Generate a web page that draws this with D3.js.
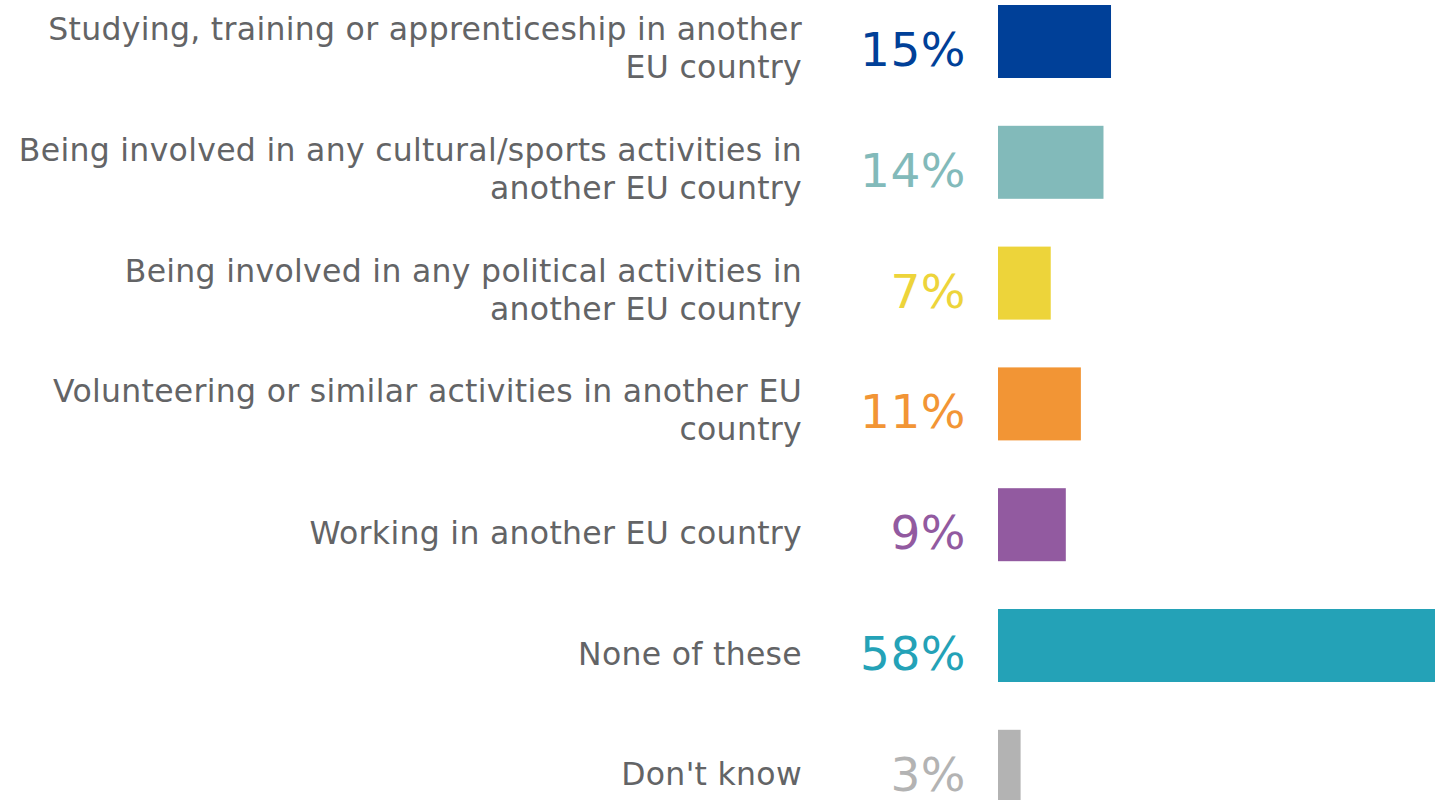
<!DOCTYPE html>
<html>
<head>
<meta charset="utf-8">
<script src="https://cdn.jsdelivr.net/npm/d3@7"></script>
<style>
  html, body { margin: 0; padding: 0; background: #fff; overflow: hidden; }
  svg { display: block; }
</style>
</head>
<body>
<svg id="chart" width="1435" height="800"></svg>
<script>
const categories = [
  ["Studying, training or apprenticeship in another", "EU country"],
  ["Being involved in any cultural/sports activities in", "another EU country"],
  ["Being involved in any political activities in", "another EU country"],
  ["Volunteering or similar activities in another EU", "country"],
  ["Working in another EU country"],
  ["None of these"],
  ["Don't know"]
];
const values = [15, 14, 7, 11, 9, 58, 3];
const valueLabels = ["15%", "14%", "7%", "11%", "9%", "58%", "3%"];
const colors = ["#004098", "#82baba", "#edd43a", "#f29535", "#925aa0", "#24a2b7", "#b3b3b3"];

const svg = d3.select("#chart");
const W = 1435, H = 800;
const barX0 = 998;
const idx = d3.range(values.length);

const x = d3.scaleLinear().domain([0, 58]).range([barX0, W]);
const step = 120.8;
const pin = 73 / step;
const r0 = 5 - (1 - pin) / 2 * step;
const y = d3.scaleBand()
  .domain(idx)
  .range([r0, r0 + step * idx.length])
  .paddingInner(1 - pin)
  .paddingOuter((1 - pin) / 2);

const font = "'DejaVu Sans', Verdana, sans-serif";

// bars
svg.append("g").selectAll("rect").data(idx).join("rect")
  .attr("x", x(0))
  .attr("y", i => y(i))
  .attr("width", i => x(values[i]) - x(0))
  .attr("height", y.bandwidth())
  .attr("fill", i => colors[i]);

// value labels
svg.append("g").selectAll("text").data(idx).join("text")
  .attr("x", 966)
  .attr("y", i => y(i) + y.bandwidth() / 2 + 24.5)
  .attr("text-anchor", "end")
  .attr("font-family", font)
  .attr("font-size", 47)
  .attr("letter-spacing", 0.5)
  .attr("fill", i => colors[i])
  .text(i => valueLabels[i]);

// category labels
const lab = svg.append("g").selectAll("text").data(idx).join("text")
  .attr("text-anchor", "end")
  .attr("font-family", font)
  .attr("font-size", 31.5)
  .attr("letter-spacing", 0.3)
  .attr("fill", "#636466");
lab.each(function(i) {
  const lines = categories[i];
  const c = y(i) + y.bandwidth() / 2;
  const base = lines.length === 1 ? c + 19 : c - 1.5;
  d3.select(this).selectAll("tspan").data(lines).join("tspan")
    .attr("x", 802)
    .attr("y", (d, k) => base + k * 38)
    .text(d => d);
});
</script>
</body>
</html>
